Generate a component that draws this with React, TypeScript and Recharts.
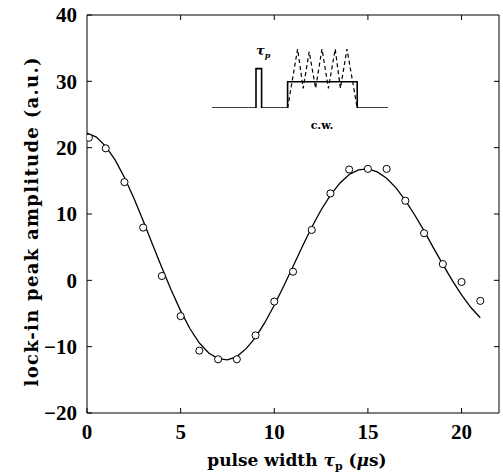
import { ComposedChart, LineChart, Line, Scatter, XAxis, YAxis, ZAxis, ReferenceLine } from 'recharts';

// measured lock-in peak amplitude vs pulse width
const pulseWidth = [0.1, 1, 2, 3, 4, 5, 6, 7, 8, 9, 10, 11, 12, 13, 14, 15, 16, 17, 18, 19, 20, 21];
const amplitude = [21.5, 19.9, 14.8, 7.95, 0.65, -5.4, -10.6, -11.9, -11.9, -8.3, -3.2, 1.3, 7.6, 13.1, 16.7, 16.8, 16.8, 12.0, 7.1, 2.45, -0.25, -3.1];

// fitted curve
const fitX = [0, 0.5, 1, 1.5, 2, 2.5, 3, 3.5, 4, 4.5, 5, 5.5, 6, 6.5, 7, 7.5, 8, 8.5, 9, 9.5, 10, 10.5, 11, 11.5, 12, 12.5, 13, 13.5, 14, 14.5, 15, 15.5, 16, 16.5, 17, 17.5, 18, 18.5, 19, 19.5, 20, 20.5, 21];
const fitY = [22.2, 21.6, 20.2, 18.15, 15.5, 12.4, 9.0, 5.4, 1.9, -1.5, -4.6, -7.3, -9.45, -10.95, -11.8, -12.0, -11.5, -10.3, -8.6, -6.35, -3.75, -0.9, 2.1, 5.1, 8.0, 10.6, 12.85, 14.65, 15.95, 16.65, 16.8, 16.35, 15.4, 13.95, 12.05, 9.85, 7.45, 4.9, 2.4, 0.0, -2.2, -4.1, -5.65];

const xTicks = [0, 5, 10, 15, 20];
const yTicks = [-20, -10, 0, 10, 20, 30, 40];
const X_MAX = 22;
const Y_MIN = -20;
const Y_MAX = 40;

// inset sketch: pulse then c.w. with oscillating (dashed) response
const pulseT = [0, 11, 11, 12.4, 12.4, 18.9, 18.9, 36.3, 36.3, 44];
const pulseLevel = [0, 0, 3, 3, 0, 0, 2, 2, 0, 0];
const oscT = [18.9, 21.4, 22.8, 24.3, 25.9, 27.5, 29.1, 30.8, 32.1, 33.75, 36.3];
const oscLevel = [0, 4.5, 1.5, 4.3, 1.5, 4.5, 1.5, 4.5, 1.5, 4.5, 0];

const points = pulseWidth.map((x, i) => ({ x, y: amplitude[i] }));
const fit = fitX.map((x, i) => ({ x, y: fitY[i] }));
const pulse = pulseT.map((t, i) => ({ t, v: pulseLevel[i] }));
const osc = oscT.map((t, i) => ({ t, v: oscLevel[i] }));

const tickFont = { fontFamily: 'Liberation Serif', fontWeight: 700, fontSize: 21, fill: '#000' };
const titleFont = { fontFamily: 'DejaVu Serif', fontWeight: 700, fontSize: 17, fill: '#000' };
const minus = (v: number) => String(v).replace('-', '\u2212');

// tick length on the top / right frame, in data units (~5px)
const TOP_TICK = 0.75;
const RIGHT_TICK = 0.27;

export default function App() {
    return (
        <div style={{ position: 'absolute', left: 0, top: 0, width: 503, height: 475, background: '#fff' }}>
            <ComposedChart width={503} height={475} margin={{ top: 15, right: 4, left: 0, bottom: 0 }}>
                <XAxis
                    dataKey="x"
                    type="number"
                    domain={[0, X_MAX]}
                    ticks={xTicks}
                    height={62}
                    tickSize={-5}
                    tickMargin={16}
                    stroke="#000"
                    tick={tickFont}
                    allowDataOverflow
                />
                <YAxis
                    type="number"
                    domain={[Y_MIN, Y_MAX]}
                    ticks={yTicks}
                    width={87}
                    tickSize={-5}
                    tickMargin={15}
                    tickFormatter={minus}
                    stroke="#000"
                    tick={tickFont}
                    allowDataOverflow
                />
                <ZAxis range={[40, 40]} />
                {/* frame: top and right sides with inward ticks */}
                <ReferenceLine y={Y_MAX} stroke="#000" strokeWidth={1} />
                <ReferenceLine x={X_MAX} stroke="#000" strokeWidth={1} />
                {xTicks.filter((t) => t > 0).map((t) => (
                    <ReferenceLine key={`tx${t}`} segment={[{ x: t, y: Y_MAX }, { x: t, y: Y_MAX - TOP_TICK }]} stroke="#000" />
                ))}
                {yTicks.filter((t) => t > Y_MIN && t < Y_MAX).map((t) => (
                    <ReferenceLine key={`ty${t}`} segment={[{ x: X_MAX - RIGHT_TICK, y: t }, { x: X_MAX, y: t }]} stroke="#000" />
                ))}
                <Line data={fit} dataKey="y" stroke="#000" strokeWidth={1.3} dot={false} isAnimationActive={false} />
                <Scatter data={points} dataKey="y" fill="#fff" stroke="#000" strokeWidth={1} shape="circle" isAnimationActive={false} />
            </ComposedChart>

            <div style={{ position: 'absolute', left: 212, top: 49 }}>
                <LineChart width={176} height={59} margin={{ top: 0, right: 0, left: 0, bottom: 0 }}>
                    <XAxis dataKey="t" type="number" domain={[0, 44]} hide />
                    <YAxis type="number" domain={[0, 4.5]} hide />
                    <Line data={osc} dataKey="v" stroke="#000" strokeWidth={1.2} strokeDasharray="4 3" dot={false} isAnimationActive={false} />
                    <Line data={pulse} dataKey="v" stroke="#000" strokeWidth={1.6} dot={false} isAnimationActive={false} />
                </LineChart>
            </div>

            <svg width={503} height={475} style={{ position: 'absolute', left: 0, top: 0, pointerEvents: 'none' }}>
                <text x={297} y={466} textAnchor="middle" style={titleFont}>
                    pulse width <tspan fontStyle="italic">τ</tspan>
                    <tspan fontSize={11} dy={4}>p</tspan>
                    <tspan dy={-4}> (</tspan>
                    <tspan fontStyle="italic">μ</tspan>s)
                </text>
                <text
                    x={37.5}
                    y={222}
                    textAnchor="middle"
                    transform="rotate(-90 37.5 222)"
                    textLength={329}
                    lengthAdjust="spacing"
                    style={{ ...titleFont, fontSize: 18 }}
                >
                    lock-in peak amplitude (a.u.)
                </text>
                <text x={256} y={55} style={{ ...titleFont, fontSize: 13, fontStyle: 'italic' }}>
                    τ<tspan fontSize={8} dy={3}>p</tspan>
                </text>
                <text x={322} y={129} textAnchor="middle" style={{ ...titleFont, fontSize: 11 }}>
                    c.w.
                </text>
            </svg>
        </div>
    );
}
